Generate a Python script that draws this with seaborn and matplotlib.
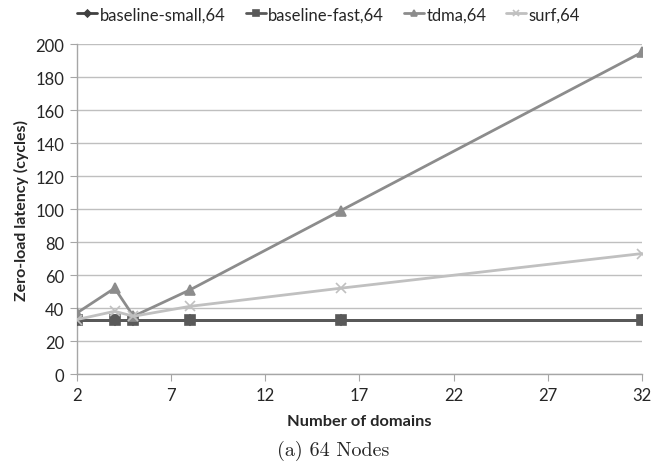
import numpy as np
import pandas as pd
import matplotlib
matplotlib.use('Agg')
import matplotlib.pyplot as plt
import seaborn as sns

# Values
domains = [2, 4, 5, 8, 16, 32]
baseline_small = [33, 33, 33, 33, 33, 33]
baseline_fast = [33, 33, 33, 33, 33, 33]
tdma = [37, 52, 35, 51, 99, 195]
surf = [33, 38, 35, 41, 52, 73]

series_names = ['baseline-small,64', 'baseline-fast,64', 'tdma,64', 'surf,64']
colors = ['#404040', '#595959', '#8c8c8c', '#c0c0c0']
markers = ['D', 's', '^', 'x']

df = pd.DataFrame({
    'Domains': domains * 4,
    'Latency': baseline_small + baseline_fast + tdma + surf,
    'Series': np.repeat(series_names, len(domains)),
})

sns.set_style('white')
plt.rcParams['font.family'] = ['Lato', 'DejaVu Sans']

fig = plt.figure(figsize=(6.67, 4.64), dpi=100)
ax = fig.add_axes([0.1154, 0.1918, 0.8471, 0.7112])

sizes = {'D': 5, 's': 7, '^': 7, 'x': 7}
for name, c, m in zip(series_names, colors, markers):
    sub = df[df['Series'] == name]
    sns.lineplot(data=sub, x='Domains', y='Latency', ax=ax, color=c, marker=m,
                 markersize=sizes[m], markeredgecolor=c, markeredgewidth=1.2,
                 linewidth=2, label=name, zorder=3)

ax.set_xlim(2, 32)
ax.set_ylim(0, 200)
ax.set_xticks([2, 7, 12, 17, 22, 27, 32])
ax.set_yticks(range(0, 201, 20))
ax.yaxis.grid(True, color='#bfbfbf', linewidth=1)
ax.xaxis.grid(False)
for s in ['top', 'right']:
    ax.spines[s].set_visible(False)
for s in ['left', 'bottom']:
    ax.spines[s].set_color('#a6a6a6')
    ax.spines[s].set_linewidth(1)
ax.tick_params(axis='both', which='both', length=5, color='#a6a6a6', labelsize=12, pad=4,
               bottom=True, left=True)
ax.set_xlabel('Number of domains', fontsize=11.8, fontweight='bold', labelpad=8)
ax.set_ylabel('Zero-load latency (cycles)', fontsize=11.5, fontweight='bold', labelpad=5)

handles, labels = ax.get_legend_handles_labels()
ax.get_legend().remove()
fig.legend(handles, labels, loc='center', bbox_to_anchor=(0.493, 0.967), ncol=4,
           frameon=False, fontsize=12, handlelength=1.2, handletextpad=0.15,
           columnspacing=1.2, markerscale=0.7)

fig.text(0.5, 0.028, '(a) 64 Nodes', ha='center', va='center', fontsize=14.5, fontname='cmr10')

fig.savefig('out.png', dpi=100)
